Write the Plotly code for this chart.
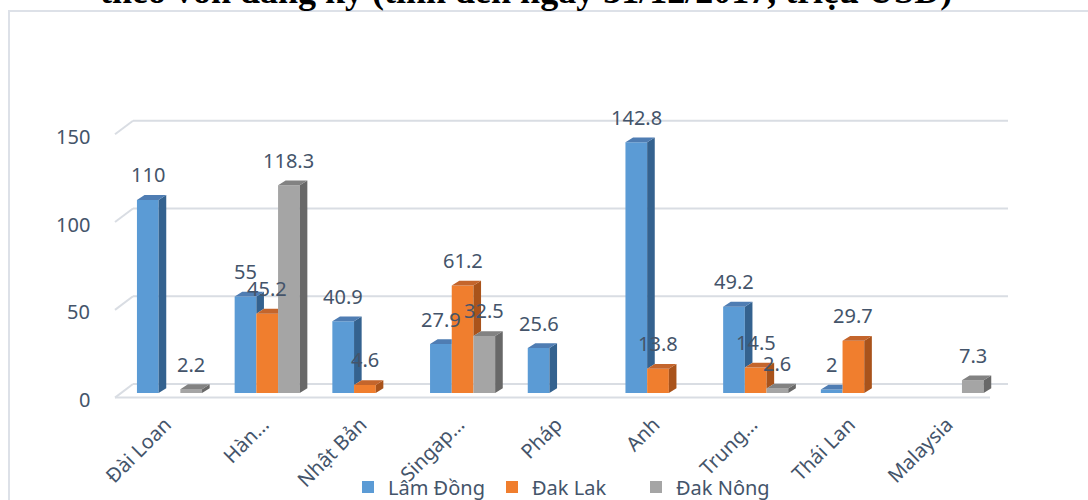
import plotly.graph_objects as go

# ---- data -------------------------------------------------------------
categories = ["Đài Loan", "Hàn…", "Nhật Bản", "Singap…", "Pháp", "Anh",
              "Trung…", "Thái Lan", "Malaysia"]
series_names = ["Lâm Đồng", "Đak Lak", "Đak Nông"]
lam_dong = [110, 55, 40.9, 27.9, 25.6, 142.8, 49.2, 2, None]
dak_lak = [None, 45.2, 4.6, 61.2, None, 13.8, 14.5, 29.7, None]
dak_nong = [2.2, 118.3, None, 32.5, None, None, 2.6, None, 7.3]
y_ticks = [0, 50, 100, 150]
title_text = "theo vốn đăng ký (tính đến ngày 31/12/2017, triệu USD)"

# ---- styling ----------------------------------------------------------
W, H = 1088, 500
FONT = "Noto Sans"
TEXT_COLOR = "#44546A"
GRID_COLOR = "#D9DDE3"
front_colors = ["#5B9BD5", "#F07E2E", "#A5A5A5"]
side_colors = ["#34628F", "#A9531B", "#686868"]
top_colors = ["#4F7DB3", "#C4652C", "#828282"]

# pixel geometry of the pseudo-3D scene
PX_PER_CAT = 97.7        # distance between category centres
PX_PER_UNIT = 1.7553     # pixels per value unit
CAT0_PX = 169.5          # x pixel of first category centre
BASE_PX = 393.0          # y pixel of bar bottoms
X_DOM_PX = (105.0, 1030.0)
Y_DOM_PX = (404.0, 60.0)


def xu(px):
    return (px - CAT0_PX) / PX_PER_CAT


def yu(px):
    return (BASE_PX - px) / PX_PER_UNIT


# depth offsets (converted to axis units)
FLOOR_DX = 18.0 / PX_PER_CAT
FLOOR_DY = 13.6 / PX_PER_UNIT
FRONT_SHIFT = (BASE_PX - 397.6) / PX_PER_UNIT      # front plane vs bar plane
BAR_DX = 7.6 / PX_PER_CAT
BAR_DY = 4.8 / PX_PER_UNIT

GROUP_W = 0.6663
BAR_W = GROUP_W / 3
offsets = [-GROUP_W / 2 + k * BAR_W for k in range(3)]

series_values = [lam_dong, dak_lak, dak_nong]
x_idx = list(range(len(categories)))

fig = go.Figure()

# front faces of the columns
for k, (name, vals) in enumerate(zip(series_names, series_values)):
    fig.add_trace(go.Bar(
        x=x_idx, y=vals, name=name, width=BAR_W, offset=offsets[k],
        marker=dict(color=front_colors[k], line=dict(width=0)),
        hoverinfo="skip",
    ))

# side and top faces (drawn after the fronts, hidden parts trimmed)
for k, vals in enumerate(series_values):
    sx, sy, tx, ty = [], [], [], []
    for i, v in enumerate(vals):
        if v is None:
            continue
        xl = i + offsets[k]
        xr = xl + BAR_W
        vn = 0
        if k < 2 and series_values[k + 1][i] is not None:
            vn = series_values[k + 1][i]
        if v > vn:
            sx += [xr, xr + BAR_DX, xr + BAR_DX, xr, xr, None]
            sy += [vn, vn + BAR_DY, v + BAR_DY, v, vn, None]
            tx += [xl, xl + BAR_DX, xr + BAR_DX, xr, xl, None]
        else:
            tx += [xl, xl + BAR_DX, xr, xr, xl, None]
        ty += [v, v + BAR_DY, v + BAR_DY, v, v, None]
    fig.add_trace(go.Scatter(x=sx, y=sy, mode="lines", fill="toself",
                             fillcolor=side_colors[k], line=dict(width=0),
                             showlegend=False, hoverinfo="skip"))
    fig.add_trace(go.Scatter(x=tx, y=ty, mode="lines", fill="toself",
                             fillcolor=top_colors[k], line=dict(width=0),
                             showlegend=False, hoverinfo="skip"))

# wall gridlines with their perspective edge, and the floor front edge
back_left = xu(133.0)
front_left = back_left - FLOOR_DX
back_right = xu(1008.0)
front_right = back_right - FLOOR_DX
shapes = []
for g in y_ticks:
    yb = g + FRONT_SHIFT + FLOOR_DY
    yf = g + FRONT_SHIFT
    shapes.append(dict(type="line", xref="x", yref="y", x0=front_left, y0=yf,
                       x1=back_left, y1=yb, layer="below",
                       line=dict(color=GRID_COLOR, width=2)))
    shapes.append(dict(type="line", xref="x", yref="y", x0=back_left, y0=yb,
                       x1=back_right, y1=yb, layer="below",
                       line=dict(color=GRID_COLOR, width=2)))
shapes.append(dict(type="line", xref="x", yref="y", x0=front_left,
                   y0=FRONT_SHIFT, x1=front_right, y1=FRONT_SHIFT,
                   layer="below", line=dict(color=GRID_COLOR, width=2)))
# chart frame
shapes.append(dict(type="rect", xref="paper", yref="paper",
                   x0=9 / W, y0=-0.05, x1=1.05, y1=1 - 11 / H,
                   layer="below", line=dict(color="#DDE1E8", width=2)))

annotations = []
# data labels
for k, vals in enumerate(series_values):
    for i, v in enumerate(vals):
        if v is None:
            continue
        annotations.append(dict(
            x=i + offsets[k] + BAR_W / 2, y=v, xref="x", yref="y",
            text=f"{v:g}", showarrow=False, yshift=25,
            xanchor="center", yanchor="middle",
            font=dict(family=FONT, size=20, color=TEXT_COLOR)))
# value axis labels on the front plane
for g in y_ticks:
    annotations.append(dict(
        x=92 / W, y=g + FRONT_SHIFT, xref="paper", yref="y",
        text=str(g), showarrow=False, xanchor="right", yanchor="middle",
        yshift=-2, font=dict(family=FONT, size=20, color=TEXT_COLOR)))
# title
annotations.append(dict(
    x=526 / W, y=1 - 13 / H, xref="paper", yref="paper",
    text=title_text, showarrow=False, xanchor="center", yanchor="bottom",
    font=dict(family="Liberation Serif", size=36, color="#000000",
              weight="bold")))

fig.update_layout(
    width=W, height=H,
    margin=dict(l=0, r=0, t=0, b=0, autoexpand=False),
    paper_bgcolor="white", plot_bgcolor="rgba(0,0,0,0)",
    barmode="overlay",
    showlegend=True,
    legend=dict(orientation="h", x=0.5 + 20 / W, xanchor="center",
                xref="container",
                y=1 - 487 / H, yanchor="middle", yref="container",
                entrywidthmode="pixels", entrywidth=99,
                font=dict(family=FONT, size=20, color=TEXT_COLOR),
                bgcolor="rgba(0,0,0,0)"),
    xaxis=dict(domain=[X_DOM_PX[0] / W, X_DOM_PX[1] / W],
               range=[xu(X_DOM_PX[0]), xu(X_DOM_PX[1])],
               tickmode="array", tickvals=x_idx, ticktext=categories,
               tickangle=-45, showgrid=False, zeroline=False,
               showline=False, ticks="", fixedrange=True, automargin=False,
               ticklabelstandoff=4, ticklabelshift=-4,
               tickfont=dict(family=FONT, size=20, color=TEXT_COLOR)),
    yaxis=dict(domain=[1 - Y_DOM_PX[0] / H, 1 - Y_DOM_PX[1] / H],
               range=[yu(Y_DOM_PX[0]), yu(Y_DOM_PX[1])],
               showticklabels=False, showgrid=False, zeroline=False,
               showline=False, ticks="", fixedrange=True, automargin=False),
    shapes=shapes,
    annotations=annotations,
)

fig.write_html("out.html")
